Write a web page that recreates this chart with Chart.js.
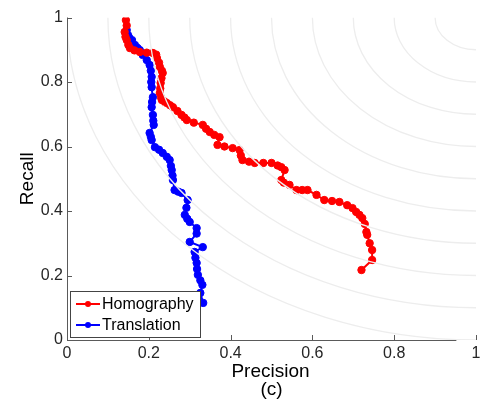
<!DOCTYPE html>
<html>
<head>
<meta charset="utf-8">
<script src="https://cdn.jsdelivr.net/npm/chart.js@4"></script>
<style>
  body { margin: 0; background: #fff; }
  canvas { display: block; }
</style>
</head>
<body>
<canvas id="prChart" width="481" height="401"></canvas>
<script>
// [precision, recall] pairs
const homography = [
  [0.144, 0.992], [0.146, 0.975], [0.141, 0.955], [0.143, 0.940], [0.146, 0.930],
  [0.150, 0.915], [0.154, 0.905], [0.165, 0.898], [0.178, 0.893], [0.195, 0.891],
  [0.210, 0.890], [0.218, 0.885], [0.220, 0.874], [0.225, 0.860], [0.227, 0.847],
  [0.232, 0.835], [0.234, 0.828], [0.231, 0.812], [0.229, 0.797], [0.228, 0.780],
  [0.227, 0.766], [0.230, 0.752], [0.232, 0.744], [0.238, 0.740], [0.244, 0.735],
  [0.252, 0.728], [0.259, 0.722], [0.270, 0.710], [0.280, 0.698], [0.287, 0.690],
  [0.293, 0.682], [0.310, 0.674], [0.332, 0.667], [0.340, 0.655], [0.349, 0.645],
  [0.360, 0.636], [0.373, 0.629], [0.368, 0.605], [0.385, 0.600], [0.405, 0.595],
  [0.422, 0.589], [0.425, 0.572], [0.429, 0.558], [0.445, 0.553], [0.459, 0.549],
  [0.480, 0.549], [0.500, 0.549], [0.515, 0.541], [0.524, 0.536], [0.532, 0.527],
  [0.524, 0.496], [0.530, 0.488], [0.544, 0.481], [0.561, 0.465], [0.575, 0.465],
  [0.588, 0.465], [0.610, 0.450], [0.629, 0.434], [0.648, 0.431], [0.666, 0.428],
  [0.685, 0.418], [0.698, 0.409], [0.707, 0.397], [0.715, 0.388], [0.722, 0.378],
  [0.728, 0.360], [0.732, 0.335], [0.734, 0.326], [0.740, 0.300], [0.746, 0.279],
  [0.746, 0.248], [0.720, 0.217]
];
const translation = [
  [0.146, 0.961], [0.149, 0.946], [0.152, 0.938], [0.159, 0.930], [0.166, 0.915],
  [0.172, 0.906], [0.178, 0.899], [0.185, 0.884], [0.195, 0.868], [0.202, 0.853],
  [0.205, 0.835], [0.207, 0.816], [0.206, 0.800], [0.207, 0.784], [0.210, 0.753],
  [0.208, 0.738], [0.207, 0.722], [0.210, 0.698], [0.211, 0.680], [0.212, 0.667],
  [0.202, 0.642], [0.205, 0.630], [0.207, 0.620], [0.215, 0.598], [0.225, 0.590],
  [0.234, 0.580], [0.244, 0.568], [0.251, 0.558], [0.254, 0.540], [0.256, 0.527],
  [0.258, 0.510], [0.259, 0.496], [0.263, 0.465], [0.272, 0.460], [0.280, 0.456],
  [0.295, 0.434], [0.292, 0.410], [0.288, 0.388], [0.294, 0.376], [0.300, 0.366],
  [0.317, 0.347], [0.317, 0.330], [0.300, 0.304], [0.332, 0.288], [0.312, 0.273],
  [0.314, 0.255], [0.317, 0.239], [0.318, 0.220], [0.320, 0.202], [0.326, 0.185],
  [0.331, 0.171], [0.326, 0.146], [0.333, 0.115]
];
const seriesNames = ["Homography", "Translation"];
const seriesColors = ["#ff0000", "#0000ff"];
const xTicks = [0, 0.2, 0.4, 0.6, 0.8, 1];
const yTicks = [0, 0.2, 0.4, 0.6, 0.8, 1];
const isoRadii = [0.1, 0.2, 0.3, 0.4, 0.5, 0.6, 0.7, 0.8, 0.9, 1.0];
const xAxisEnd = 0.952;

const FONT = "'Liberation Sans', Arial, sans-serif";

function toPoints(pairs) {
  return pairs.map((p) => ({ x: p[0], y: p[1] }));
}

const isoArcs = {
  id: "isoArcs",
  afterDatasetsDraw(chart) {
    const { ctx, chartArea, scales } = chart;
    const cx = scales.x.getPixelForValue(1);
    const cy = scales.y.getPixelForValue(1);
    const sx = scales.x.getPixelForValue(1) - scales.x.getPixelForValue(0);
    const sy = scales.y.getPixelForValue(0) - scales.y.getPixelForValue(1);
    ctx.save();
    ctx.beginPath();
    ctx.rect(chartArea.left, chartArea.top, chartArea.right - chartArea.left, chartArea.bottom - chartArea.top);
    ctx.clip();
    ctx.strokeStyle = "#ededed";
    ctx.lineWidth = 1.3;
    isoRadii.forEach((r) => {
      ctx.beginPath();
      ctx.ellipse(cx, cy, r * sx, r * sy, 0, Math.PI / 2, Math.PI);
      ctx.stroke();
    });
    ctx.restore();
  },
};

const axesAndText = {
  id: "axesAndText",
  afterDraw(chart) {
    const { ctx, chartArea, scales } = chart;
    const left = chartArea.left, bottom = chartArea.bottom;
    ctx.save();
    ctx.strokeStyle = "#5a5a5a";
    ctx.lineWidth = 1;
    ctx.beginPath();
    ctx.moveTo(left + 0.5, chartArea.top);
    ctx.lineTo(left + 0.5, bottom + 0.5);
    ctx.lineTo(scales.x.getPixelForValue(xAxisEnd), bottom + 0.5);
    xTicks.forEach((v) => {
      const px = Math.round(scales.x.getPixelForValue(v)) + 0.5;
      ctx.moveTo(px, bottom);
      ctx.lineTo(px, bottom - 5);
    });
    yTicks.forEach((v) => {
      const py = Math.round(scales.y.getPixelForValue(v)) + 0.5;
      ctx.moveTo(left, py);
      ctx.lineTo(left + 5, py);
    });
    ctx.stroke();

    // axis titles
    ctx.fillStyle = "#000";
    ctx.font = "19px " + FONT;
    ctx.textAlign = "center";
    ctx.textBaseline = "middle";
    const midX = (chartArea.left + chartArea.right) / 2;
    ctx.fillText("Precision", midX - 1, 372);
    ctx.fillText("(c)", midX, 390);
    ctx.save();
    ctx.translate(28, (chartArea.top + chartArea.bottom) / 2);
    ctx.rotate(-Math.PI / 2);
    ctx.fillText("Recall", 0, 0);
    ctx.restore();

    // legend box
    const bx = 70.5, by = 291.5, bw = 130, bh = 46;
    ctx.fillStyle = "#fff";
    ctx.fillRect(bx, by, bw, bh);
    ctx.strokeStyle = "#444";
    ctx.strokeRect(bx, by, bw, bh);
    ctx.font = "16px " + FONT;
    ctx.textAlign = "left";
    seriesNames.forEach((name, i) => {
      const ly = 304 + i * 21;
      ctx.strokeStyle = seriesColors[i];
      ctx.fillStyle = seriesColors[i];
      ctx.lineWidth = 2;
      ctx.beginPath();
      ctx.moveTo(76, ly);
      ctx.lineTo(100, ly);
      ctx.stroke();
      ctx.beginPath();
      ctx.arc(88, ly, 3, 0, Math.PI * 2);
      ctx.fill();
      ctx.fillStyle = "#000";
      ctx.fillText(name, 102, ly + 1);
    });
    ctx.restore();
  },
};

const ctx = document.getElementById("prChart").getContext("2d");
const prChart = new Chart(ctx, {
  type: "scatter",
  data: {
    datasets: [
      {
        label: seriesNames[0],
        data: toPoints(homography),
        showLine: true,
        borderColor: seriesColors[0],
        backgroundColor: seriesColors[0],
        borderWidth: 2,
        pointRadius: 3.7,
        pointBorderWidth: 1,
      },
      {
        label: seriesNames[1],
        data: toPoints(translation),
        showLine: true,
        borderColor: seriesColors[1],
        backgroundColor: seriesColors[1],
        borderWidth: 2,
        pointRadius: 3.7,
        pointBorderWidth: 1,
      },
    ],
  },
  options: {
    responsive: false,
    animation: false,
    layout: { padding: { top: 17.5, right: 0, left: 0, bottom: 0 } },
    plugins: { legend: { display: false }, tooltip: { enabled: false } },
    scales: {
      x: {
        type: "linear",
        min: 0,
        max: 1,
        afterBuildTicks: (scale) => { scale.ticks = xTicks.map((v) => ({ value: v })); },
        afterFit: (scale) => {
          scale.height = 61;
          scale.paddingLeft = 0;
          scale.paddingRight = 5;
        },
        grid: { display: false, drawTicks: false },
        border: { display: false },
        ticks: {
          padding: 4, color: "#262626", font: { family: FONT, size: 16 }, maxRotation: 0,
          callback: (v) => String(v),
        },
      },
      y: {
        type: "linear",
        min: 0,
        max: 1,
        afterBuildTicks: (scale) => { scale.ticks = yTicks.map((v) => ({ value: v })); },
        afterFit: (scale) => {
          scale.width = 67;
          scale.paddingTop = 0;
          scale.paddingBottom = 0;
        },
        grid: { display: false, drawTicks: false },
        border: { display: false },
        ticks: {
          padding: 4, color: "#262626", font: { family: FONT, size: 16 },
          callback: (v) => String(v),
        },
      },
    },
  },
  plugins: [isoArcs, axesAndText],
});
</script>
</body>
</html>
